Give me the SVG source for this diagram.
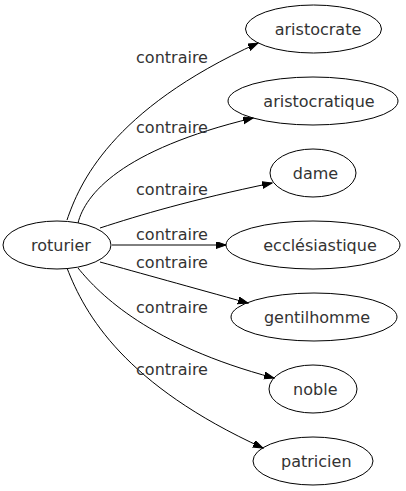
<svg xmlns="http://www.w3.org/2000/svg" width="406" height="491" viewBox="0 0 406 491">
<style>
.n ellipse{fill:none;stroke:#000;stroke-width:1}
text{font-family:"DejaVu Sans",sans-serif;font-size:16px;fill:#333;text-anchor:middle}
.e path{fill:none;stroke:#000;stroke-width:1;marker-end:url(#ah)}
</style>
<defs>
<marker id="ah" markerUnits="userSpaceOnUse" markerWidth="11" markerHeight="8" refX="10" refY="3.5" orient="auto" viewBox="0 0 11 8">
<path d="M0,0 L10,3.5 L0,7 z" fill="#000" stroke="#000" stroke-width="1"/>
</marker>
</defs>
<rect width="406" height="491" fill="#fff"/>
<g id="edges" class="e">
<path d="M67,220 C79,185 110,110 258,43"/>
<path d="M78,223 C85,195 120,150 253,118"/>
<path d="M100,228 C140,215 190,200 272,183"/>
<path d="M112,245 L226,245"/>
<path d="M100,262 C140,273 190,287 248,303"/>
<path d="M78,268 C100,295 150,345 274,378"/>
<path d="M67,268 C85,315 125,385 263,448"/>
</g>
<g id="labels">
<text x="172" y="63">contraire</text>
<text x="172" y="133">contraire</text>
<text x="172" y="195">contraire</text>
<text x="172" y="240">contraire</text>
<text x="172" y="268">contraire</text>
<text x="172" y="313">contraire</text>
<text x="172" y="375">contraire</text>
</g>
<g id="roturier" class="n"><ellipse cx="57" cy="245" rx="54" ry="24"/><text x="61" y="251">roturier</text></g>
<g id="aristocrate" class="n"><ellipse cx="313.5" cy="29" rx="68" ry="24"/><text x="318" y="35">aristocrate</text></g>
<g id="aristocratique" class="n"><ellipse cx="313" cy="101" rx="85" ry="24"/><text x="319" y="107">aristocratique</text></g>
<g id="dame" class="n"><ellipse cx="313" cy="173" rx="43" ry="24"/><text x="315.5" y="179">dame</text></g>
<g id="ecclesiastique" class="n"><ellipse cx="313" cy="245" rx="87" ry="24"/><text x="320" y="251">ecclésiastique</text></g>
<g id="gentilhomme" class="n"><ellipse cx="314" cy="317" rx="83" ry="24"/><text x="317" y="323">gentilhomme</text></g>
<g id="noble" class="n"><ellipse cx="313" cy="389" rx="44" ry="24"/><text x="315.3" y="395">noble</text></g>
<g id="patricien" class="n"><ellipse cx="313" cy="461" rx="60" ry="24"/><text x="316.3" y="467">patricien</text></g>
</svg>
